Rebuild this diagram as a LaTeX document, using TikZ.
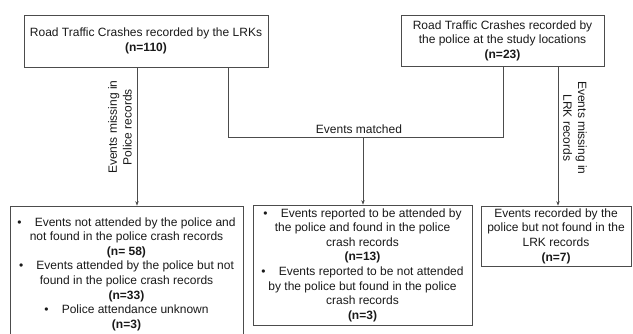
\documentclass[tikz,border=0pt]{standalone}
\usepackage{fontspec}
\setmainfont{Liberation Sans}
\usetikzlibrary{arrows.meta}
\begin{document}
\begin{tikzpicture}[x=1bp,y=-1bp,
  box/.style={draw=black!70, line width=0.7bp, align=center, inner sep=0pt,
    font=\fontsize{12bp}{14.6bp}\selectfont, text=black!90},
  conn/.style={draw=black!70, line width=0.7bp},
  arr/.style={conn, -{Stealth[length=4.5bp,width=3.5bp]}},
  lbl/.style={align=center, inner sep=0pt, font=\fontsize{12bp}{14.6bp}\selectfont, text=black!90}]
\useasboundingbox (0,0) rectangle (633,333);
\node[box, minimum width=244bp, minimum height=52bp] (b1) at (146,41)
  {Road Traffic Crashes recorded by the LRKs\\ \textbf{(n=110)}};
\node[box, minimum width=203bp, minimum height=51bp] (b2) at (502.5,40.5)
  {Road Traffic Crashes recorded by\\ the police at the study locations\\ \textbf{(n=23)}};
\node[box, minimum width=233bp, minimum height=136bp] (b3) at (126.5,274)
  {•\hspace{1.1em}Events not attended by the police and\\
   not found in the police crash records\\
   \textbf{(n= 58)}\\
   •\hspace{1.1em}Events attended by the police but not\\
   found in the police crash records\\
   \textbf{(n=33)}\\
   •\hspace{1.1em}Police attendance unknown\\
   \textbf{(n=3)}};
\node[box, minimum width=219bp, minimum height=120bp] (b4) at (362.5,265)
  {•\hspace{1.1em}Events reported to be attended by\\
   the police and found in the police\\
   crash records\\
   \textbf{(n=13)}\\
   •\hspace{1.1em}Events reported to be not attended\\
   by the police but found in the police\\
   crash records\\
   \textbf{(n=3)}};
\node[box, minimum width=150bp, minimum height=60bp] (b5) at (556,236)
  {Events recorded by the\\ police but not found in the\\ LRK records\\ \textbf{(n=7)}};
\coordinate (lx) at (137,0);
\coordinate (m1) at (228,0);
\coordinate (m2) at (503,0);
\coordinate (mj) at (363,137);
\coordinate (rx) at (558,0);
\draw[arr] (b1.south -| lx) -- (b3.north -| lx);
\draw[conn] (b1.south -| m1) |- (m2 |- mj) -- (b2.south -| m2);
\draw[arr] (mj) -- (b4.north -| mj);
\draw[arr] (b2.south -| rx) -- (b5.north -| rx);
\node[lbl, rotate=90] (l1) at (120,127) {Events missing in\\ Police records};
\node[lbl, rotate=-90] (l2) at (575,128) {Events missing in\\ LRK records};
\node[lbl, anchor=south] (l3) at (359,134) {Events matched};
\end{tikzpicture}
\end{document}
